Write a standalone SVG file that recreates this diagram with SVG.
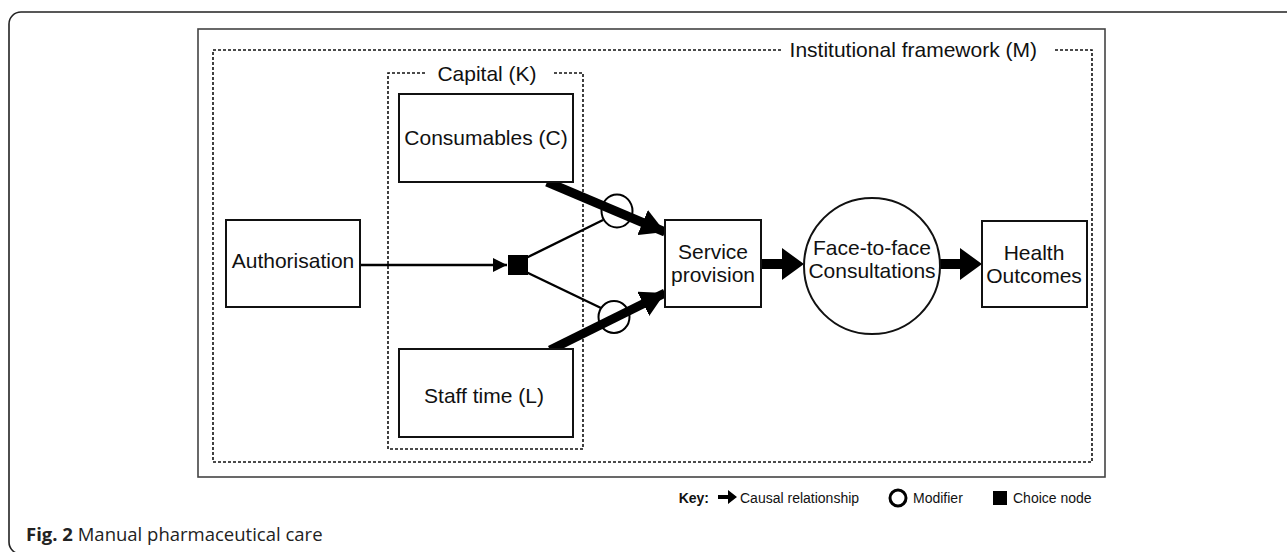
<svg xmlns="http://www.w3.org/2000/svg" width="1287" height="552" viewBox="0 0 1287 552">
<defs>
<style>
.t{font-family:"Liberation Sans",Arial,sans-serif;font-size:21px;fill:#111}
.box{fill:#fff;stroke:#111;stroke-width:2}
.dash{fill:none;stroke:#111;stroke-width:1.6;stroke-dasharray:3 2}
.thin{stroke:#000;stroke-width:2.4;fill:none}
.thick{stroke:#000;stroke-width:9;fill:none}
.mod{fill:none;stroke:#000;stroke-width:2}
.leg{font-family:"Liberation Sans",Arial,sans-serif;font-size:14px;fill:#111}
.cap{font-family:"Open Sans","Liberation Sans",sans-serif;font-size:18.5px;fill:#222}
</style>
<marker id="ah" viewBox="0 0 10 10" refX="9" refY="5" markerWidth="3" markerHeight="3" markerUnits="strokeWidth" orient="auto">
<path d="M0,0 L9,5 L0,10 Z" fill="#000"/>
</marker>
<marker id="ahs" viewBox="0 0 10 10" refX="10" refY="5" markerWidth="6" markerHeight="6" markerUnits="strokeWidth" orient="auto">
<path d="M0,0 L10,5 L0,10 Z" fill="#000"/>
</marker>
</defs>
<rect width="1287" height="552" fill="#fff"/>
<!-- card -->
<rect x="9" y="12" width="1320" height="542" rx="12" fill="none" stroke="#222" stroke-width="1.6"/>
<!-- figure frame -->
<rect x="198" y="29" width="907" height="448" fill="#fff" stroke="#444" stroke-width="1.6"/>
<g id="institutional-framework">
<path class="dash" d="M781,50 H213 V462 H1092 V50 H1053"/>
<text class="t" x="1037" y="57" text-anchor="end">Institutional framework (M)</text>
</g>
<g id="capital">
<path class="dash" d="M425,73 H388 V449 H583 V73 H552"/>
<text class="t" x="487" y="81" text-anchor="middle">Capital (K)</text>
</g>
<g id="connectors">
<line class="thin" x1="360" y1="265" x2="507" y2="265" marker-end="url(#ahs)"/>
<line class="thin" x1="526" y1="258" x2="603" y2="220"/>
<line class="thin" x1="526" y1="272" x2="601" y2="308"/>
<line class="thick" x1="547" y1="182" x2="665" y2="232" marker-end="url(#ah)"/>
<line class="thick" x1="550" y1="350" x2="665" y2="293" marker-end="url(#ah)"/>
<path d="M761,259 H782 V248 L804,264 L782,280 V269 H761 Z" fill="#000"/>
<path d="M940,259 H960 V248 L982,264 L960,280 V269 H940 Z" fill="#000"/>
</g>
<g id="modifier-c"><ellipse class="mod" cx="617" cy="211" rx="15.5" ry="16.5"/></g>
<g id="modifier-l"><ellipse class="mod" cx="614" cy="317" rx="15.5" ry="16"/></g>
<g id="choice-node"><rect x="508" y="255" width="20" height="20" fill="#000"/></g>
<g id="authorisation">
<rect class="box" x="226" y="220" width="134" height="87"/>
<text class="t" x="293" y="268" text-anchor="middle">Authorisation</text>
</g>
<g id="consumables">
<rect class="box" x="399" y="94" width="174" height="88"/>
<text class="t" x="486" y="145" text-anchor="middle">Consumables (C)</text>
</g>
<g id="staff-time">
<rect class="box" x="399" y="349" width="174" height="88"/>
<text class="t" x="484" y="403" text-anchor="middle">Staff time (L)</text>
</g>
<g id="service-provision">
<rect class="box" x="665" y="220" width="96" height="87"/>
<text class="t" x="713" y="259" text-anchor="middle">Service</text>
<text class="t" x="713" y="282" text-anchor="middle">provision</text>
</g>
<g id="face-to-face">
<circle cx="872" cy="266" r="68" fill="#fff" stroke="#111" stroke-width="2"/>
<text class="t" x="872" y="255" text-anchor="middle">Face-to-face</text>
<text class="t" x="872" y="278" text-anchor="middle">Consultations</text>
</g>
<g id="health-outcomes">
<rect class="box" x="982" y="221" width="105" height="86"/>
<text class="t" x="1034" y="260" text-anchor="middle">Health</text>
<text class="t" x="1034" y="283" text-anchor="middle">Outcomes</text>
</g>
<g id="legend">
<text class="leg" x="709" y="503" text-anchor="end" font-weight="bold" font-size="13">Key:</text>
<path d="M718,495 H728 V490 L737,497 L728,504 V499 H718 Z" fill="#000"/>
<text class="leg" x="740" y="503">Causal relationship</text>
<circle cx="898" cy="498" r="8" fill="none" stroke="#000" stroke-width="3"/>
<text class="leg" x="913" y="503">Modifier</text>
<rect x="993" y="491" width="14" height="14" fill="#000"/>
<text class="leg" x="1013" y="503">Choice node</text>
</g>
<text class="cap" x="26" y="541"><tspan font-weight="bold">Fig. 2</tspan> Manual pharmaceutical care</text>
</svg>
